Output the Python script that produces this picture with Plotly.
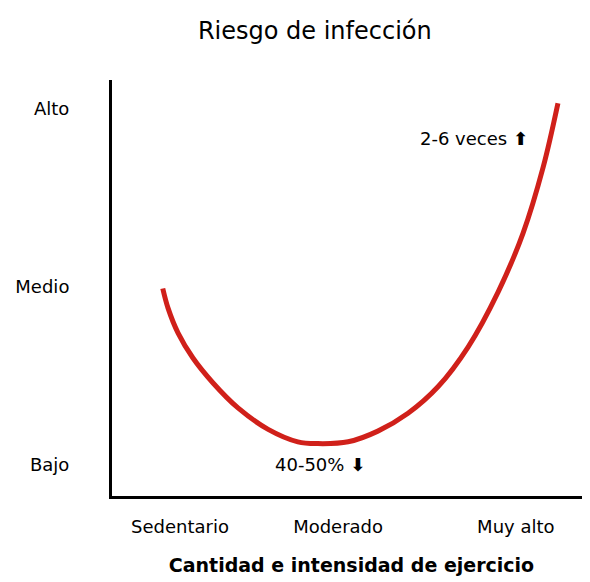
import plotly.graph_objects as go

x_vals = [10.6, 11.7, 13.8, 16.9, 21.1, 26.3, 32.6, 38.8, 43.0, 49.3, 55.5, 61.8, 68.1, 74.3, 80.6, 85.8, 90.0, 93.1]
y_vals = [0.99, 0.88, 0.74, 0.60, 0.46, 0.32, 0.20, 0.13, 0.12, 0.13, 0.19, 0.29, 0.44, 0.66, 0.97, 1.30, 1.67, 2.03]
x_ticks = [14.2, 47.2, 84.3]
x_labels = ["Sedentario", "Moderado", "Muy alto"]
y_ticks = [0, 1, 2]
y_labels = ["Bajo", "Medio", "Alto"]

fig = go.Figure(go.Scatter(x=x_vals, y=y_vals, mode="lines", line=dict(color="#d0201a", width=5, shape="spline")))
fig.update_layout(
    width=590, height=582, margin=dict(l=104, r=7, t=72, b=94, autoexpand=False),
    plot_bgcolor="white", paper_bgcolor="white", showlegend=False,
    font=dict(family="DejaVu Sans", size=18, color="black"),
    title=dict(text="Riesgo de infección", x=0.52, xref="container", xanchor="center", y=0.962, yanchor="middle", font=dict(size=24)),
    xaxis=dict(range=[0, 100], tickvals=x_ticks, ticktext=x_labels, showgrid=False, zeroline=False, automargin=False,
               showline=True, linecolor="black", linewidth=3, ticks="", ticklabelstandoff=12,
               title=dict(text="<b>Cantidad e intensidad de ejercicio</b>", standoff=24, font=dict(size=19))),
    yaxis=dict(range=[-0.174, 2.16], tickvals=y_ticks, ticktext=y_labels, showgrid=False, zeroline=False, automargin=False,
               showline=True, linecolor="black", linewidth=3, ticks="", ticklabelstandoff=36),
)
fig.add_annotation(x=75.5, y=1.83, text="2-6 veces <b>⬆</b>", showarrow=False, font=dict(size=18))
fig.add_annotation(x=43.5, y=0.0, text="40-50% <b>⬇</b>", showarrow=False, font=dict(size=18))
fig.write_html("out.html")
